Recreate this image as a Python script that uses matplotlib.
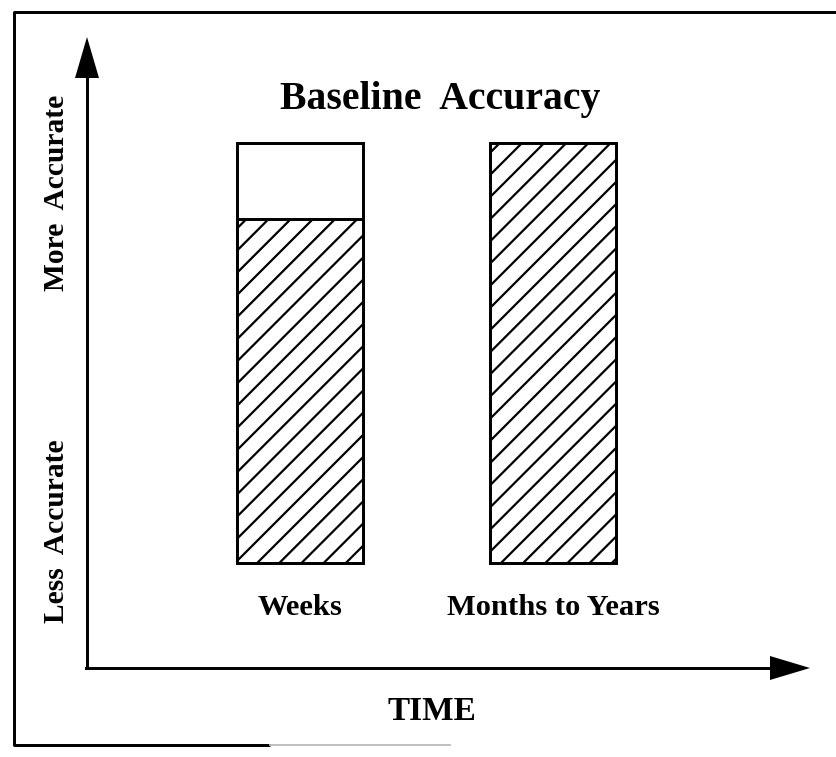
import matplotlib.pyplot as plt

# данные
periods = ["Weeks", "Months to Years"]
accuracy = [0.82, 1.0]       # заштрихованная часть столбца
full_scale = [1.0, 1.0]      # контур столбца

plt.rcParams['font.family'] = ['Liberation Serif', 'DejaVu Serif']
plt.rcParams['hatch.linewidth'] = 1.2

DPI = 133
W, H = 836, 757
fig = plt.figure(figsize=(W / DPI, H / DPI), dpi=DPI)

# слой-подложка в пикселях: рамка, стрелки осей, подписи
bg = fig.add_axes([0, 0, 1, 1])
bg.set_xlim(0, W)
bg.set_ylim(H, 0)
bg.axis('off')

lw = 1.6
# рамка (правой стороны нет)
bg.plot([836, 14, 14, 270], [12, 12, 745, 745], color='black', lw=lw, solid_capstyle='butt')
bg.plot([270, 450], [745, 745], color='#bbbbbb', lw=1.0)

# ось Y со стрелкой
bg.plot([87, 87], [668, 75], color='black', lw=lw)
bg.fill([75, 99, 87], [78, 78, 37], color='black', lw=0)
# ось X со стрелкой
bg.plot([86, 772], [668, 668], color='black', lw=lw)
bg.fill([770, 770, 810], [656, 680, 668], color='black', lw=0)

bg.text(440, 100, "Baseline  Accuracy", fontsize=21.5, fontweight='bold',
        ha='center', va='center')
bg.text(432, 712, "TIME", fontsize=18, fontweight='bold', ha='center', va='center')
bg.text(57, 193, "More  Accurate", fontsize=16, fontweight='bold', rotation=90,
        ha='center', va='center')
bg.text(57, 531, "Less  Accurate", fontsize=16, fontweight='bold', rotation=90,
        ha='center', va='center')

# столбцы
ax = fig.add_axes([237 / W, (H - 563) / H, (616 - 237) / W, (563 - 143) / H])
ax.patch.set_alpha(0)
x = range(len(periods))
ax.bar(x, full_scale, width=0.499, color='white', edgecolor='black', linewidth=lw,
       clip_on=False)
ax.bar(x, accuracy, width=0.499, color='white', edgecolor='black', linewidth=lw,
       hatch='//', clip_on=False)
ax.set_xlim(-0.2495, 1.2495)
ax.set_ylim(0, 1)
ax.axis('off')

for i, name in enumerate(periods):
    ax.text(i, -0.107, name, fontsize=16.5, fontweight='bold', ha='center', va='center',
            transform=ax.transData)

fig.savefig("out.png", dpi=DPI)
